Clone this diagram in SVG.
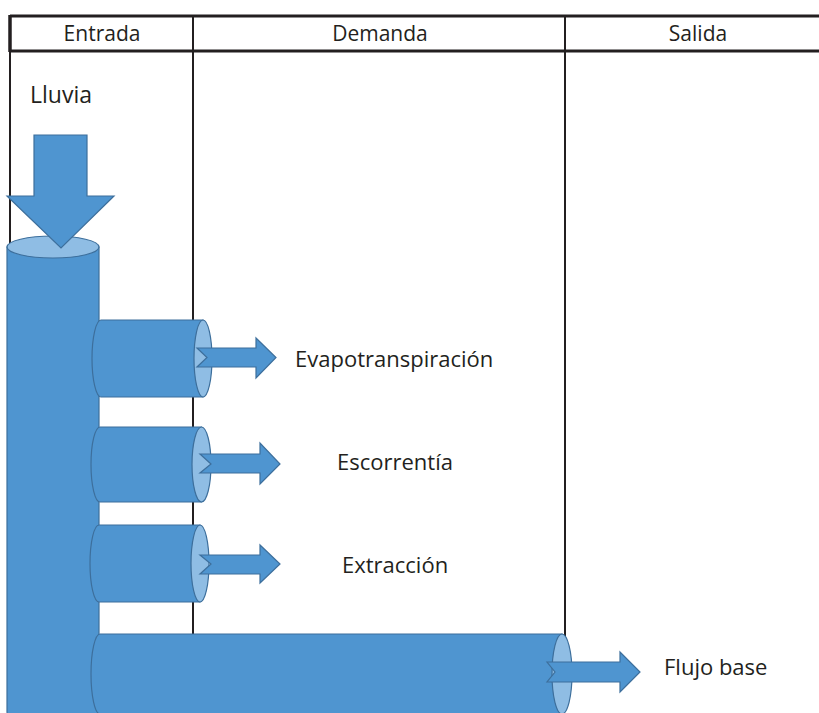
<svg xmlns="http://www.w3.org/2000/svg" width="819" height="713" viewBox="0 0 819 713">
<style>
.t{font-family:"Open Sans","Liberation Sans",sans-serif;fill:#231f20}
.h{font-size:21px;text-anchor:middle}
.l{font-size:22px}
.body{fill:#4f95d0;stroke:#3d6f9c;stroke-width:1.2}
.cap{fill:#8fbde4;stroke:#3d6f9c;stroke-width:1.2}
.arr{fill:#4f95d0;stroke:#3d6f9c;stroke-width:1.2}
.ln{stroke:#231f20;fill:none}
</style>
<rect width="819" height="713" fill="#fff"/>
<g id="table">
<line class="ln" x1="10" y1="16" x2="819" y2="16" stroke-width="3"/>
<line class="ln" x1="10" y1="51" x2="819" y2="51" stroke-width="3"/>
<line class="ln" x1="10" y1="15" x2="10" y2="52" stroke-width="3.5"/>
<line class="ln" x1="10" y1="50" x2="10" y2="700" stroke-width="2"/>
<line class="ln" x1="193" y1="16" x2="193" y2="700" stroke-width="2"/>
<line class="ln" x1="565" y1="16" x2="565" y2="700" stroke-width="2"/>
<text class="t h" x="102" y="41">Entrada</text>
<text class="t h" x="380" y="41">Demanda</text>
<text class="t h" x="698" y="41">Salida</text>
</g>
<g id="tanque">
<path class="body" d="M7,247 V712 A46,11 0 0 0 99,712 V247 Z"/>
<ellipse class="cap" cx="53" cy="247" rx="46" ry="11"/>
</g>
<g id="evapotranspiracion">
<path class="body" d="M203,320 H101 A9,38.5 0 0 0 101,397 H203 Z"/>
<ellipse class="cap" cx="203" cy="358.5" rx="9" ry="38.5"/>
<text class="t l" x="295" y="367">Evapotranspiración</text>
</g>
<g id="escorrentia">
<path class="body" d="M201.5,427 H100 A9,37.5 0 0 0 100,502 H201.5 Z"/>
<ellipse class="cap" cx="201.5" cy="464.5" rx="9.5" ry="37.5"/>
<text class="t l" x="337" y="470">Escorrentía</text>
</g>
<g id="extraccion">
<path class="body" d="M200,525 H99 A9,38.5 0 0 0 99,602 H200 Z"/>
<ellipse class="cap" cx="200" cy="563.5" rx="9" ry="38.5"/>
<text class="t l" x="342" y="573">Extracción</text>
</g>
<g id="flujo-base">
<path class="body" d="M562,634 H100 A9,40 0 0 0 100,714 H562 Z"/>
<ellipse class="cap" cx="562" cy="674" rx="10" ry="40"/>
<text class="t l" x="664" y="675">Flujo base</text>
</g>
<g id="lluvia">
<text class="t" x="30" y="103" font-size="23">Lluvia</text>
<path class="arr" d="M34,135 H87 V196 H114 L61,248 L7,196 H34 Z"/>
</g>
<g id="connectors">
<path class="arr" d="M197,348 H256 V338 L276,357.5 L256,378 V367 H197 L207,357.5 Z"/>
<path class="arr" d="M200,454 H260 V443 L280,464 L260,484 V473 H200 L211,464 Z"/>
<path class="arr" d="M200,555 H260 V545 L280,564 L260,583 V574 H200 L211,564 Z"/>
<path class="arr" d="M547,662 H620 V652 L640,672 L620,692 V682 H547 L555,672 Z"/>
</g>
</svg>
